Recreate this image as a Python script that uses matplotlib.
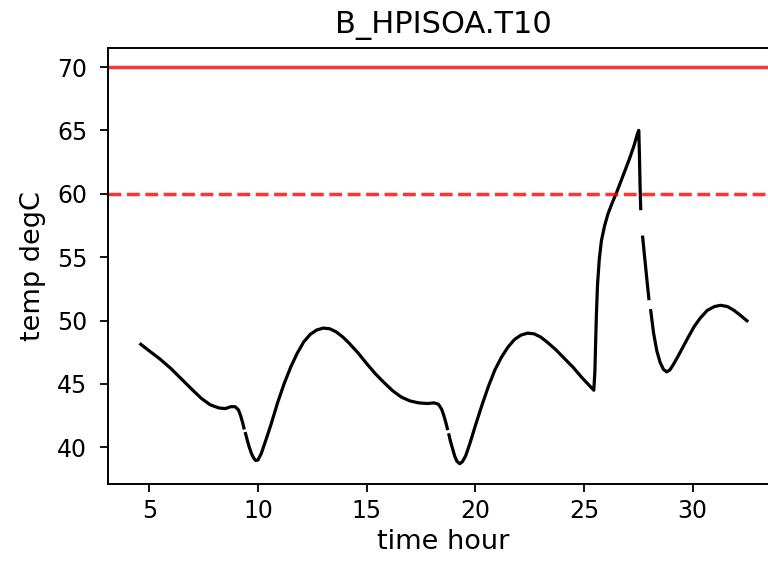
import numpy as np
import matplotlib
matplotlib.use("Agg")
import matplotlib.pyplot as plt

title = "B_HPISOA.T10"
xlabel = "time hour"
ylabel = "temp degC"
limit_max = 70
limit_warn = 60

nan = float("nan")
time_hour = [4.55, 5.0, 5.5, 6.0, 6.5, 7.0, 7.4, 7.8, 8.2, 8.5, 8.75, 8.95, 9.1, 9.2, 9.3, 9.37, nan,
             9.41, 9.5, 9.6, 9.7, 9.8, 9.9, 10.0, 10.15, 10.35, 10.6, 10.9, 11.2, 11.5, 11.8, 12.1,
             12.4, 12.7, 13.0, 13.3, 13.6, 13.9, 14.2, 14.6, 15.0, 15.4, 15.8, 16.2, 16.6, 17.0,
             17.4, 17.8, 18.1, 18.3, 18.45, 18.55, 18.65, 18.73, nan,
             18.77, 18.85, 18.95, 19.05, 19.15, 19.28, 19.4, 19.55, 19.75, 20.0, 20.3, 20.6, 20.9,
             21.2, 21.5, 21.8, 22.1, 22.4, 22.7, 23.0, 23.3, 23.7, 24.1, 24.5, 24.9, 25.2, 25.45,
             25.5, 25.53, 25.57, 25.62, 25.7, 25.8, 25.95, 26.1, 26.3, 26.5, 26.7, 26.9, 27.1,
             27.3, 27.45, 27.52, 27.55, 27.58, 27.61, nan,
             27.69, 27.8, 27.9, 27.99, nan,
             28.06, 28.2, 28.35, 28.5, 28.65, 28.8, 28.95, 29.1, 29.3, 29.55, 29.8, 30.06, 30.35,
             30.67, 31.0, 31.28, 31.6, 31.9, 32.2, 32.55]
temp_degC = [48.2, 47.6, 46.95, 46.2, 45.35, 44.5, 43.85, 43.35, 43.1, 43.05, 43.2, 43.2, 42.95, 42.5, 41.9, 41.4, nan,
             41.2, 40.6, 40.0, 39.5, 39.15, 38.95, 39.0, 39.5, 40.5, 41.8, 43.5, 45.0, 46.3, 47.4, 48.3,
             48.9, 49.25, 49.4, 49.35, 49.1, 48.7, 48.2, 47.45, 46.6, 45.8, 45.1, 44.45, 43.95, 43.65,
             43.5, 43.45, 43.5, 43.4, 43.0, 42.5, 41.9, 41.35, nan,
             41.1, 40.5, 39.9, 39.3, 38.9, 38.7, 38.85, 39.3, 40.3, 41.7, 43.3, 44.8, 46.1,
             47.1, 47.9, 48.5, 48.85, 49.0, 48.95, 48.7, 48.3, 47.7, 47.0, 46.3, 45.5, 44.95, 44.5,
             46.0, 48.0, 50.5, 52.8, 54.8, 56.3, 57.5, 58.4, 59.3, 60.1, 61.0, 61.9, 62.8,
             63.8, 64.7, 65.0, 63.0, 60.5, 58.7, nan,
             56.7, 54.8, 53.1, 51.6, nan,
             50.9, 49.0, 47.6, 46.7, 46.15, 45.95, 46.1, 46.5, 47.1, 47.9, 48.7, 49.5, 50.2,
             50.8, 51.1, 51.2, 51.1, 50.8, 50.4, 49.9]

fig = plt.figure(figsize=(7.68, 5.62), dpi=100)
ax = fig.add_axes([108/768, 1-484/562, (779-108)/768, (484-48)/562])

ax.plot(time_hour, temp_degC, color="black", lw=2.3, solid_capstyle="butt")
ax.axhline(limit_max, color="red", alpha=0.8, lw=2.5)
ax.axhline(limit_warn, color="red", alpha=0.8, lw=2.5, ls="--")

ax.set_xlim(3.1, 33.97)
ax.set_ylim(37.1, 71.5)
ax.set_xticks([5, 10, 15, 20, 25, 30])
ax.set_yticks([40, 45, 50, 55, 60, 65, 70])

ax.set_title(title, fontsize=22, pad=11)
ax.set_xlabel(xlabel, fontsize=19.5, labelpad=4)
ax.set_ylabel(ylabel, fontsize=19.5, labelpad=8)
ax.tick_params(labelsize=17, length=6, width=1.3)
ax.tick_params(axis="y", pad=9)
ax.tick_params(axis="x", pad=5)
for s in ax.spines.values():
    s.set_linewidth(1.4)

fig.savefig("out.png", dpi=100)
